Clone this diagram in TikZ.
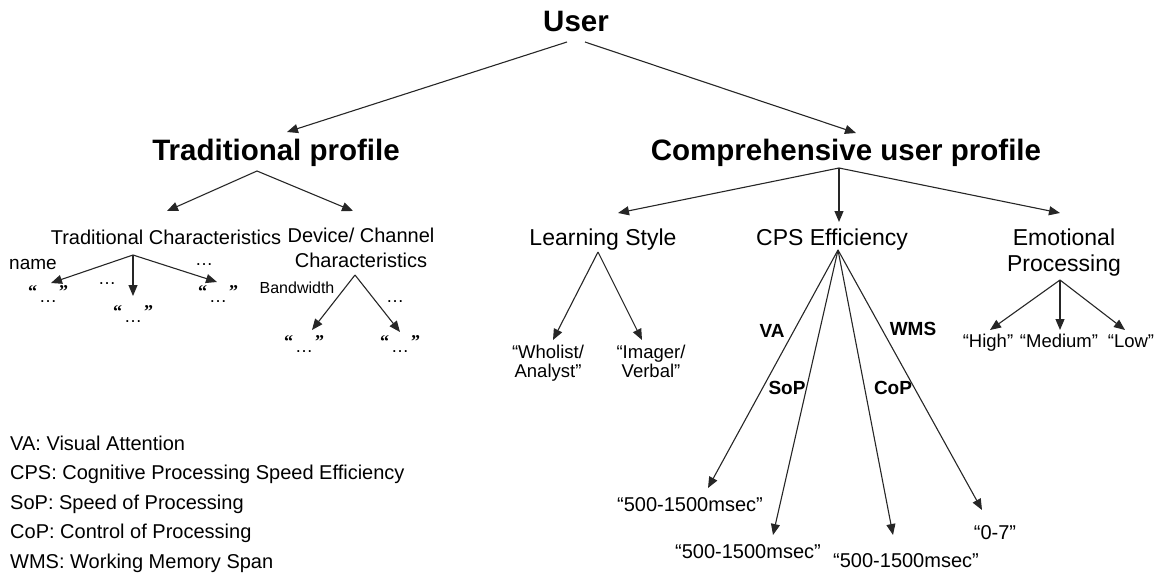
\documentclass[tikz,border=0pt]{standalone}
\usepackage{fontspec}
\setmainfont{Liberation Sans}
\newfontfamily\qfont{Liberation Serif}
\usetikzlibrary{arrows.meta}
\begin{document}
\begin{tikzpicture}[x=1pt,y=-1pt,
  arr/.style={draw=black!85, line width=1.1pt, -{Triangle[length=11pt,width=9pt]}},
  big/.style={font=\fontsize{29.5}{32}\selectfont\bfseries, inner sep=0, anchor=base},
  mid/.style={font=\fontsize{23}{26}\selectfont, inner sep=0, anchor=base, align=center},
  sm/.style={font=\fontsize{20}{25}\selectfont, inner sep=0, anchor=base, align=center},
  val/.style={font=\fontsize{18.5}{19}\selectfont, inner sep=0, anchor=base, align=center},
  bl/.style={font=\fontsize{19}{22}\selectfont\bfseries, inner sep=0, anchor=base},
  dts/.style={font=\fontsize{18}{20}\selectfont, inner sep=0, anchor=base},
  qq/.style={font=\fontsize{18}{20}\selectfont, inner sep=0, anchor=base},
  leg/.style={font=\fontsize{20}{29.5}\selectfont, inner sep=0, anchor=north west, align=left}]
\useasboundingbox (0,0) rectangle (1158,575);
\newcommand\qdots{{\qfont\bfseries“}\makebox[22pt]{\raisebox{-5pt}{…}}{\qfont\bfseries”}}
% main nodes
\node[big] (user) at (576,32) {User};
\node[big] (trad) at (276,160) {Traditional profile};
\node[big] (comp) at (846,160) {Comprehensive user profile};
% level 2
\node[sm] (tc) at (166,244) {Traditional Characteristics};
\node[sm] (dc) at (361,267) {Device/ Channel\\Characteristics};
\node[mid] (ls) at (603,245) {Learning Style};
\node[mid] (cps) at (832,245) {CPS Efficiency};
\node[mid] (ep) at (1064,271) {Emotional\\Processing};
% traditional leaves
\node[font=\fontsize{19}{20}\selectfont, inner sep=0, anchor=base] (name) at (33,269) {name};
\node[dts] (d1) at (107,284) {…};
\node[dts] (d2) at (204,265) {…};
\node[qq] (tc1) at (48,297) {\qdots};
\node[qq] (tc2) at (133,317) {\qdots};
\node[qq] (tc3) at (218,297) {\qdots};
\node[font=\fontsize{16}{18}\selectfont, inner sep=0, anchor=base] (bw) at (297,293) {Bandwidth};
\node[dts] (d3) at (395,302) {…};
\node[qq] (dc1) at (304,347) {\qdots};
\node[qq] (dc2) at (400,347) {\qdots};
% learning style leaves
\node[val] (who) at (548,377) {“Wholist/\\Analyst”};
\node[val] (ima) at (651,377) {“Imager/\\Verbal”};
% CPS labels
\node[bl] (va) at (772,337) {VA};
\node[bl] (wms) at (913,335) {WMS};
\node[bl] (sop) at (787,394) {SoP};
\node[bl] (cop) at (893,394) {CoP};
\node[sm] (v1) at (690,511) {“500-1500msec”};
\node[sm] (v2) at (748,558) {“500-1500msec”};
\node[sm] (v3) at (906,567) {“500-1500msec”};
\node[sm] (v4) at (995,539) {“0-7”};
% emotional leaves
\node[val] (hi) at (988,347) {“High”};
\node[val] (me) at (1059,347) {“Medium”};
\node[val] (lo) at (1131,347) {“Low”};
% legend
\node[leg] (legend) at (10,435.5) {VA: Visual Attention\\CPS: Cognitive Processing Speed Efficiency\\SoP: Speed of Processing\\CoP: Control of Processing\\WMS: Working Memory Span};
% connector coordinates
\coordinate (userL) at (567,42);
\coordinate (userR) at (585,42);
\coordinate (tradTip) at (287,132);
\coordinate (compTip) at (856,133);
\coordinate (tradA) at (257,171);
\coordinate (tcTip) at (167,211);
\coordinate (dcTip) at (353,211);
\coordinate (compA) at (839,168);
\coordinate (lsTip) at (618,213);
\coordinate (cpsTip) at (839,222);
\coordinate (epTip) at (1060,213);
\coordinate (tcA) at (133,255);
\coordinate (tc1Tip) at (51,283);
\coordinate (tc2Tip) at (133,296);
\coordinate (tc3Tip) at (217,282);
\coordinate (dcA) at (355,275);
\coordinate (dc1Tip) at (312,330);
\coordinate (dc2Tip) at (400,332);
\coordinate (lsA) at (598,252);
\coordinate (whoTip) at (553,340);
\coordinate (imaTip) at (642,340);
\coordinate (cpsA) at (838,250);
\coordinate (v1Tip) at (708,488);
\coordinate (v2Tip) at (773,535);
\coordinate (v3Tip) at (893,535);
\coordinate (v4Tip) at (982,510);
\coordinate (epA) at (1060,280);
\coordinate (hiTip) at (990,330);
\coordinate (meTip) at (1060,330);
\coordinate (loTip) at (1125,330);
% connectors
\draw[arr] (userL) -- (tradTip);
\draw[arr] (userR) -- (compTip);
\draw[arr] (tradA) -- (tcTip);
\draw[arr] (tradA) -- (dcTip);
\draw[arr] (compA) -- (lsTip);
\draw[arr] (compA) -- (cpsTip);
\draw[arr] (compA) -- (epTip);
\draw[arr] (tcA) -- (tc1Tip);
\draw[arr] (tcA) -- (tc2Tip);
\draw[arr] (tcA) -- (tc3Tip);
\draw[arr] (dcA) -- (dc1Tip);
\draw[arr] (dcA) -- (dc2Tip);
\draw[arr] (lsA) -- (whoTip);
\draw[arr] (lsA) -- (imaTip);
\draw[arr] (cpsA) -- (v1Tip);
\draw[arr] (cpsA) -- (v2Tip);
\draw[arr] (cpsA) -- (v3Tip);
\draw[arr] (cpsA) -- (v4Tip);
\draw[arr] (epA) -- (hiTip);
\draw[arr] (epA) -- (meTip);
\draw[arr] (epA) -- (loTip);
\end{tikzpicture}
\end{document}
